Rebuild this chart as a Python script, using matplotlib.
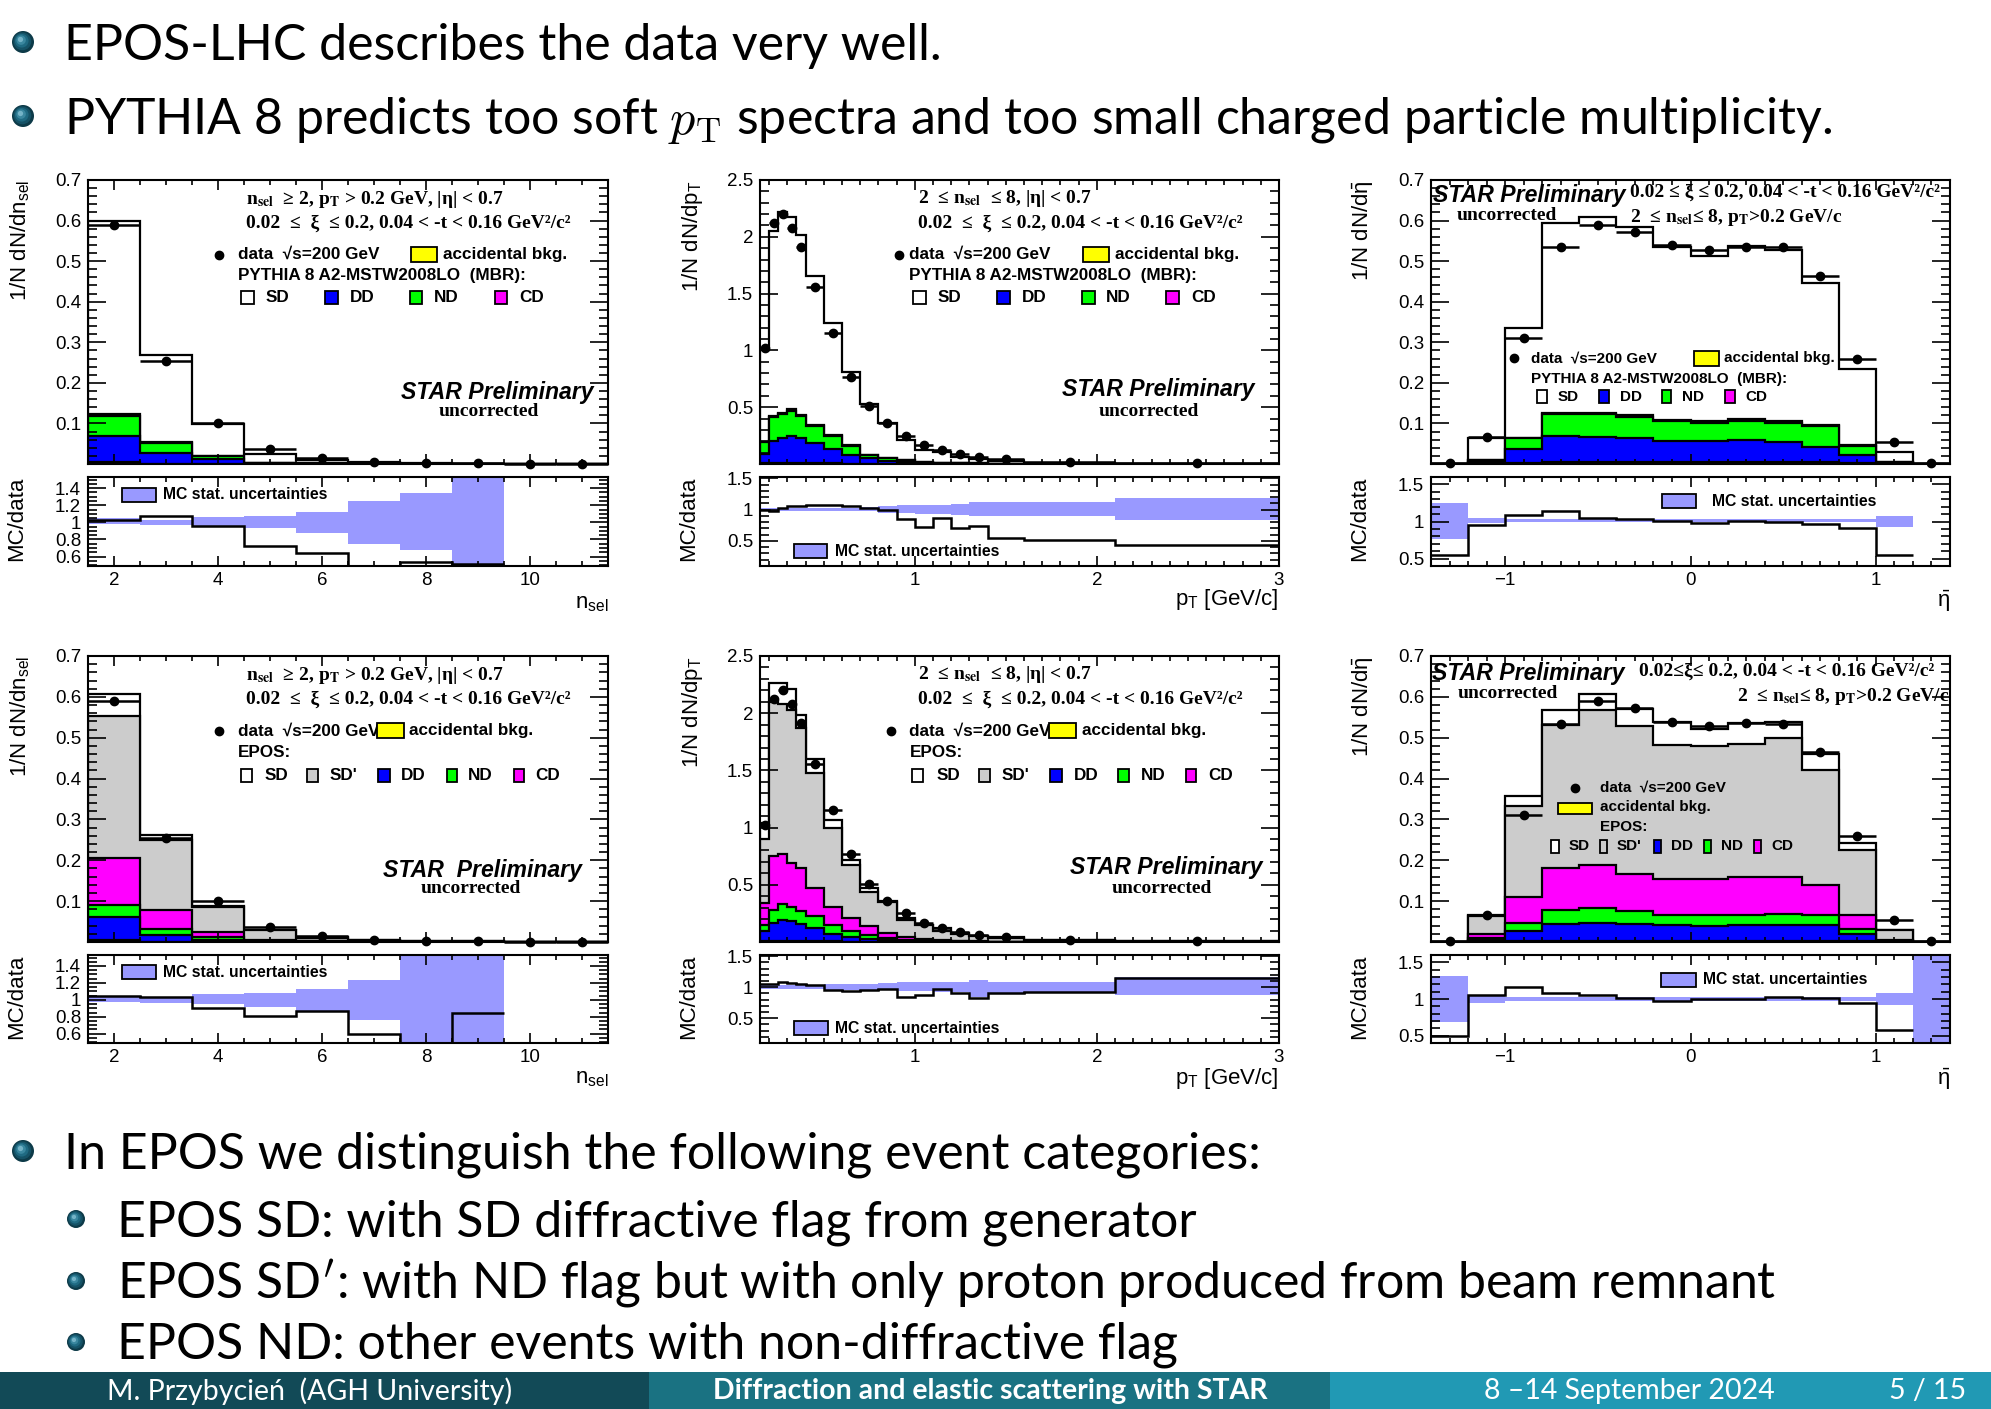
import numpy as np
import matplotlib.pyplot as plt
from matplotlib.patches import Rectangle, Circle
from matplotlib.ticker import MultipleLocator, FixedLocator, FuncFormatter

plt.rcParams['font.family'] = ['Liberation Sans', 'DejaVu Sans']
plt.rcParams['mathtext.fontset'] = 'custom'
plt.rcParams['mathtext.rm'] = 'Liberation Sans'
plt.rcParams['mathtext.it'] = 'Liberation Sans:italic'
plt.rcParams['mathtext.bf'] = 'Liberation Sans:bold'

# ---------------- binning ----------------
nsel_edges = [1.5, 2.5, 3.5, 4.5, 5.5, 6.5, 7.5, 8.5, 9.5, 10.5, 11.5]
pt_edges = [0.15, 0.2, 0.25, 0.3, 0.35, 0.4, 0.5, 0.6, 0.7, 0.8, 0.9, 1.0,
            1.1, 1.2, 1.3, 1.4, 1.6, 2.1, 3.0]
eta_edges = [-1.4, -1.2, -1.0, -0.8, -0.6, -0.4, -0.2, 0.0, 0.2, 0.4, 0.6,
             0.8, 1.0, 1.2, 1.4]

# ---------------- STAR data (uncorrected) ----------------
data_nsel = [0.590, 0.255, 0.100, 0.036, 0.014, 0.006, 0.003, 0.002, 0.001, 0.001]
data_pt = [1.02, 2.12, 2.20, 2.08, 1.91, 1.56, 1.15, 0.77, 0.51, 0.36, 0.25,
           0.167, 0.123, 0.088, 0.064, 0.044, 0.020, 0.006]
data_eta = [0.002, 0.066, 0.310, 0.534, 0.590, 0.572, 0.539, 0.528, 0.536,
            0.534, 0.464, 0.260, 0.054, 0.002]

# ---------------- PYTHIA 8 components ----------------
py_nsel_bkg = [0.004, 0.001, 0.0005, 0, 0, 0, 0, 0, 0, 0]
py_nsel_dd = [0.064, 0.025, 0.011, 0.002, 0.001, 0, 0, 0, 0, 0]
py_nsel_nd = [0.050, 0.026, 0.008, 0.001, 0.0005, 0, 0, 0, 0, 0]
py_nsel_cd = [0.005, 0.002, 0.001, 0, 0, 0, 0, 0, 0, 0]
py_nsel_sd = [0.477, 0.214, 0.077, 0.022, 0.0085, 0.004, 0.002, 0.001, 0.0005, 0.0003]

py_pt_bkg = [0.005, 0.010, 0.010, 0.010, 0.010, 0.008, 0.005, 0.003, 0.002,
             0.001, 0.0005, 0, 0, 0, 0, 0, 0, 0]
py_pt_dd = [0.085, 0.19, 0.215, 0.24, 0.215, 0.18, 0.125, 0.077, 0.048, 0.029,
            0.019, 0.010, 0.007, 0.005, 0.004, 0.003, 0.001, 0.0005]
py_pt_nd = [0.10, 0.21, 0.215, 0.22, 0.195, 0.15, 0.12, 0.08, 0.03, 0.02,
            0.012, 0.006, 0.004, 0.003, 0.002, 0.001, 0.0007, 0.0002]
py_pt_cd = [0.005, 0.010, 0.012, 0.012, 0.015, 0.008, 0.005, 0.003, 0.002,
            0.001, 0, 0, 0, 0, 0, 0, 0, 0]
py_pt_sd = [0.805, 1.63, 1.77, 1.69, 1.585, 1.31, 0.985, 0.647, 0.448, 0.309,
            0.179, 0.104, 0.096, 0.054, 0.041, 0.020, 0.008, 0.002]

py_eta_bkg = [0, 0.001, 0.002, 0.004, 0.004, 0.004, 0.004, 0.004, 0.004,
              0.004, 0.004, 0.002, 0.001, 0]
py_eta_dd = [0.0005, 0.003, 0.035, 0.066, 0.062, 0.059, 0.053, 0.053, 0.055,
             0.051, 0.039, 0.020, 0.001, 0]
py_eta_nd = [0.0005, 0.006, 0.026, 0.053, 0.057, 0.052, 0.048, 0.044, 0.046,
             0.046, 0.050, 0.023, 0.002, 0]
py_eta_cd = [0, 0.0005, 0.002, 0.002, 0.002, 0.005, 0.004, 0.005, 0.007,
             0.005, 0.003, 0.003, 0.0005, 0]
py_eta_sd = [0.0, 0.0525, 0.269, 0.469, 0.483, 0.463, 0.427, 0.407, 0.426,
             0.422, 0.350, 0.185, 0.0245, 0.001]

# ---------------- EPOS components ----------------
ep_nsel_bkg = [0.005, 0.001, 0.0005, 0, 0, 0, 0, 0, 0, 0]
ep_nsel_dd = [0.055, 0.015, 0.0055, 0.002, 0.001, 0.0005, 0, 0, 0, 0]
ep_nsel_nd = [0.031, 0.016, 0.006, 0.001, 0.0005, 0.0003, 0, 0, 0, 0]
ep_nsel_cd = [0.115, 0.047, 0.013, 0.001, 0.0005, 0.0002, 0, 0, 0, 0]
ep_nsel_sdp = [0.346, 0.170, 0.061, 0.025, 0.008, 0.004, 0.003, 0.002, 0.001, 0.0005]
ep_nsel_sd = [0.056, 0.014, 0.002, 0.001, 0.002, 0.0005, 0.0005, 0, 0, 0]

ep_pt_bkg = [0.005, 0.010, 0.010, 0.010, 0.010, 0.008, 0.005, 0.003, 0.002,
             0.001, 0, 0, 0, 0, 0, 0, 0, 0]
ep_pt_dd = [0.091, 0.156, 0.185, 0.170, 0.145, 0.117, 0.068, 0.041, 0.028,
            0.019, 0.012, 0.008, 0.005, 0.003, 0.002, 0.001, 0.0005, 0.0002]
ep_pt_nd = [0.050, 0.114, 0.140, 0.126, 0.115, 0.100, 0.073, 0.049, 0.034,
            0.015, 0.008, 0.002, 0.002, 0.002, 0.001, 0.001, 0.0005, 0.0002]
ep_pt_cd = [0.194, 0.470, 0.435, 0.384, 0.380, 0.250, 0.164, 0.117, 0.076,
            0.045, 0.024, 0.020, 0.013, 0.005, 0.004, 0.002, 0.001, 0.0006]
ep_pt_sdp = [0.56, 1.35, 1.31, 1.34, 1.22, 1.005, 0.69, 0.46, 0.30, 0.27,
             0.151, 0.116, 0.08, 0.063, 0.045, 0.031, 0.013, 0.005]
ep_pt_sd = [0.14, 0.16, 0.18, 0.18, 0.11, 0.12, 0.07, 0.05, 0.03, 0.005,
            0.015, 0.001, 0.02, 0.004, 0.001, 0.005, 0.003, 0.001]

ep_eta_bkg = [0, 0.001, 0.002, 0.003, 0.003, 0.003, 0.003, 0.003, 0.003,
              0.003, 0.003, 0.002, 0.0005, 0]
ep_eta_dd = [0.0005, 0.005, 0.024, 0.040, 0.043, 0.040, 0.038, 0.036, 0.038,
             0.039, 0.039, 0.018, 0.0005, 0]
ep_eta_nd = [0.0005, 0.004, 0.021, 0.036, 0.036, 0.033, 0.024, 0.026, 0.024,
             0.027, 0.023, 0.011, 0.001, 0]
ep_eta_cd = [0, 0.010, 0.063, 0.102, 0.107, 0.091, 0.088, 0.088, 0.094,
             0.090, 0.074, 0.034, 0.002, 0]
ep_eta_sdp = [0, 0.043, 0.224, 0.351, 0.379, 0.361, 0.328, 0.326, 0.325,
              0.341, 0.283, 0.159, 0.025, 0.0005]
ep_eta_sd = [0, 0.004, 0.023, 0.037, 0.040, 0.043, 0.057, 0.043, 0.052,
             0.038, 0.039, 0.018, 0.001, 0.0005]

# ---------------- MC/data ratios and MC stat. bands ----------------
r_py_nsel = [1.03, 1.08, 0.96, 0.72, 0.64, 0.48, 0.54, 0.51]
b_py_nsel_lo = [0.98, 0.97, 0.96, 0.93, 0.88, 0.75, 0.68, 0.40]
b_py_nsel_hi = [1.05, 1.03, 1.06, 1.08, 1.12, 1.25, 1.34, 1.60]

r_py_pt = [1.00, 0.98, 1.03, 1.05, 1.06, 1.07, 1.08, 1.05, 1.03, 1.00, 0.85,
           0.72, 0.87, 0.70, 0.74, 0.55, 0.51, 0.44]
b_py_pt_lo = [0.97, 0.97, 0.97, 0.97, 0.97, 0.97, 0.97, 0.97, 0.97, 0.95,
              0.94, 0.93, 0.93, 0.92, 0.90, 0.90, 0.90, 0.83]
b_py_pt_hi = [1.03, 1.03, 1.03, 1.03, 1.03, 1.03, 1.03, 1.03, 1.04, 1.05,
              1.07, 1.08, 1.08, 1.09, 1.12, 1.12, 1.12, 1.19]

r_py_eta = [0.55, 0.95, 1.09, 1.14, 1.05, 1.03, 1.01, 0.98, 1.01, 1.00, 0.97, 0.91, 0.55]
b_py_eta_lo = [0.77, 0.98, 0.99, 0.99, 0.99, 0.99, 0.99, 0.99, 0.99, 0.99, 0.99, 0.99, 0.93]
b_py_eta_hi = [1.25, 1.05, 1.03, 1.03, 1.03, 1.03, 1.03, 1.03, 1.03, 1.03, 1.03, 1.03, 1.07]

r_ep_nsel = [1.04, 1.03, 0.90, 0.81, 0.87, 0.60, 0.40, 0.85]
b_ep_nsel_lo = [0.97, 0.96, 0.95, 0.92, 0.86, 0.76, 0.40, 0.40]
b_ep_nsel_hi = [1.05, 1.03, 1.07, 1.08, 1.13, 1.24, 1.60, 1.60]

r_ep_pt = [1.06, 1.05, 1.08, 1.07, 1.06, 1.04, 0.96, 0.94, 0.95, 0.97, 0.85,
           0.88, 0.97, 0.90, 0.83, 0.90, 0.93, 1.15]
b_ep_pt_lo = [0.97, 0.97, 0.97, 0.97, 0.97, 0.97, 0.96, 0.96, 0.96, 0.95,
              0.94, 0.94, 0.93, 0.93, 0.85, 0.89, 0.90, 0.87]
b_ep_pt_hi = [1.04, 1.04, 1.04, 1.04, 1.04, 1.04, 1.05, 1.05, 1.06, 1.07,
              1.08, 1.08, 1.09, 1.09, 1.12, 1.09, 1.09, 1.16]

r_ep_eta = [0.50, 1.05, 1.17, 1.08, 1.05, 1.01, 0.97, 1.00, 1.00, 1.03, 1.01, 0.95, 0.58]
b_ep_eta_lo = [0.68, 0.94, 0.97, 0.97, 0.97, 0.97, 0.97, 0.97, 0.97, 0.97, 0.97, 0.97, 0.92, 0.40]
b_ep_eta_hi = [1.32, 1.05, 1.03, 1.03, 1.03, 1.03, 1.03, 1.03, 1.03, 1.03, 1.03, 1.03, 1.08, 1.60]

YELLOW, BLUE, GREEN, MAGENTA, GRAY, BAND = '#ffff00', '#0000ff', '#00ff00', '#ff00ff', '#cccccc', '#9999ff'

W, H = 1991, 1409
fig = plt.figure(figsize=(W / 100, H / 100), dpi=100)

# background axes in pixel coordinates (slide text, bullets, footer)
bg = fig.add_axes([0, 0, 1, 1], zorder=-5)
bg.set_xlim(0, W)
bg.set_ylim(H, 0)
bg.axis('off')


def add_ax(x0, x1, y0, y1):
    return fig.add_axes([x0 / W, 1 - y1 / H, (x1 - x0) / W, (y1 - y0) / H])


def fmt(v, pos):
    return ('%g' % v).replace('-', '\u2212')


def style(ax, xlim, ylim, xmaj, xmin, ymaj, ymin, labels_x):
    ax.set_xlim(*xlim)
    ax.set_ylim(*ylim)
    ax.xaxis.set_major_locator(FixedLocator(xmaj))
    ax.xaxis.set_minor_locator(MultipleLocator(xmin))
    ax.yaxis.set_major_locator(FixedLocator(ymaj))
    ax.yaxis.set_minor_locator(MultipleLocator(ymin))
    ax.xaxis.set_major_formatter(FuncFormatter(fmt))
    ax.yaxis.set_major_formatter(FuncFormatter(fmt))
    ax.tick_params(which='both', direction='in', top=True, right=True,
                   width=1.2, labelsize=13.5, labelbottom=labels_x)
    ax.tick_params(axis='y', which='major', length=13, pad=5)
    ax.tick_params(axis='y', which='minor', length=6.5)
    ax.tick_params(axis='x', which='major', length=7, pad=4)
    ax.tick_params(axis='x', which='minor', length=3.5)
    for s in ax.spines.values():
        s.set_linewidth(1.5)


def draw_stack(ax, edges, layers):
    tops = np.cumsum([v for v, c in layers], axis=0)
    for top, (_, c) in reversed(list(zip(tops, layers))):
        ax.stairs(top, edges, baseline=0, fill=True, facecolor=c,
                  edgecolor='black', lw=1.6)


def draw_data(ax, edges, vals):
    e = np.asarray(edges)
    ax.errorbar(0.5 * (e[1:] + e[:-1]), vals, xerr=0.5 * np.diff(e), fmt='o',
                color='black', ms=6, elinewidth=1.8, capsize=0, zorder=5,
                clip_on=False)


def draw_ratio(rax, edges, ratio, lo, hi):
    rax.stairs(hi, edges[:len(hi) + 1], baseline=lo, fill=True,
               facecolor=BAND, edgecolor='none', lw=0)
    rax.stairs(ratio, edges[:len(ratio) + 1], baseline=None,
               color='black', lw=1.8)


def txt(ax, x, y, s, **kw):
    ax.text(x, y, s, transform=ax.transAxes, **kw)


def box(ax, x0, x1, yc, h, color):
    ax.add_patch(Rectangle((x0, yc - h / 2), x1 - x0, h, transform=ax.transAxes,
                           facecolor=color, edgecolor='black', lw=1.3,
                           clip_on=False, zorder=6))


LEG = dict(fontsize=12.3, fontweight='bold', va='center')
LEG_S = dict(fontsize=11, fontweight='bold', va='center')
SERIF = dict(family=['Liberation Serif', 'DejaVu Serif'], fontweight='bold',
             fontsize=14, va='center', math_fontfamily='stix')
STAR = dict(fontsize=16.6, fontweight='bold', fontstyle='italic', va='center')

cols = [(88, 608), (760, 1279), (1431, 1950)]
rows = [((180, 464), (477, 566)), ((656, 942), (955, 1043))]

py_layers = [
    [(py_nsel_bkg, YELLOW), (py_nsel_dd, BLUE), (py_nsel_nd, GREEN), (py_nsel_cd, MAGENTA), (py_nsel_sd, 'white')],
    [(py_pt_bkg, YELLOW), (py_pt_dd, BLUE), (py_pt_nd, GREEN), (py_pt_cd, MAGENTA), (py_pt_sd, 'white')],
    [(py_eta_bkg, YELLOW), (py_eta_dd, BLUE), (py_eta_nd, GREEN), (py_eta_cd, MAGENTA), (py_eta_sd, 'white')],
]
ep_layers = [
    [(ep_nsel_bkg, YELLOW), (ep_nsel_dd, BLUE), (ep_nsel_nd, GREEN), (ep_nsel_cd, MAGENTA), (ep_nsel_sdp, GRAY), (ep_nsel_sd, 'white')],
    [(ep_pt_bkg, YELLOW), (ep_pt_dd, BLUE), (ep_pt_nd, GREEN), (ep_pt_cd, MAGENTA), (ep_pt_sdp, GRAY), (ep_pt_sd, 'white')],
    [(ep_eta_bkg, YELLOW), (ep_eta_dd, BLUE), (ep_eta_nd, GREEN), (ep_eta_cd, MAGENTA), (ep_eta_sdp, GRAY), (ep_eta_sd, 'white')],
]
ratios = [
    [(r_py_nsel, b_py_nsel_lo, b_py_nsel_hi), (r_py_pt, b_py_pt_lo, b_py_pt_hi), (r_py_eta, b_py_eta_lo, b_py_eta_hi)],
    [(r_ep_nsel, b_ep_nsel_lo, b_ep_nsel_hi), (r_ep_pt, b_ep_pt_lo, b_ep_pt_hi), (r_ep_eta, b_ep_eta_lo, b_ep_eta_hi)],
]

kinds = [
    dict(edges=nsel_edges, data=data_nsel, xlim=(1.5, 11.5), xmaj=[2, 4, 6, 8, 10], xmin=0.5,
         ylim=(0, 0.7), ymaj=[0.1, 0.2, 0.3, 0.4, 0.5, 0.6, 0.7], ymin=0.02,
         ytitle=r'1/N dN/dn$_{\mathrm{sel}}$', xtitle=r'n$_{\mathrm{sel}}$'),
    dict(edges=pt_edges, data=data_pt, xlim=(0.15, 3.0), xmaj=[1, 2, 3], xmin=0.1,
         ylim=(0, 2.5), ymaj=[0.5, 1, 1.5, 2, 2.5], ymin=0.1,
         ytitle=r'1/N dN/dp$_{\mathrm{T}}$', xtitle=r'p$_{\mathrm{T}}$ [GeV/c]'),
    dict(edges=eta_edges, data=data_eta, xlim=(-1.4, 1.4), xmaj=[-1, 0, 1], xmin=0.1,
         ylim=(0, 0.7), ymaj=[0.1, 0.2, 0.3, 0.4, 0.5, 0.6, 0.7], ymin=0.02,
         ytitle=r'1/N dN/d$\bar{\mathrm{\eta}}$', xtitle=r'$\bar{\mathrm{\eta}}$'),
]
ratio_y = [((0.49, 1.53), [0.6, 0.8, 1, 1.2, 1.4], 0.05),
           ((0.1, 1.52), [0.5, 1, 1.5], 0.1),
           ((0.4, 1.6), [0.5, 1, 1.5], 0.1)]
xtitle_y = [[-0.42, -0.38, -0.40], [-0.40, -0.40, -0.41]]

axes = {}
for r, ((my0, my1), (ry0, ry1)) in enumerate(rows):
    for c, (x0, x1) in enumerate(cols):
        k = kinds[c]
        ax = add_ax(x0, x1, my0, my1)
        rax = add_ax(x0, x1, ry0, ry1)
        layers = py_layers[c] if r == 0 else ep_layers[c]
        draw_stack(ax, k['edges'], layers)
        draw_data(ax, k['edges'], k['data'])
        style(ax, k['xlim'], k['ylim'], k['xmaj'], k['xmin'], k['ymaj'], k['ymin'], False)
        rat, lo, hi = ratios[r][c]
        draw_ratio(rax, k['edges'], rat, lo, hi)
        rylim, rmaj, rmin = ratio_y[c]
        style(rax, k['xlim'], rylim, k['xmaj'], k['xmin'], rmaj, rmin, True)
        txt(ax, -0.13, 1.0, k['ytitle'], rotation=90, ha='center', va='top', fontsize=16)
        txt(rax, -0.137, 1.0, 'MC/data', rotation=90, ha='center', va='top', fontsize=16)
        txt(rax, 1.0, xtitle_y[r][c], k['xtitle'], ha='right', va='center', fontsize=16)
        axes[(r, c)] = (ax, rax)

HB = 13 / 284   # legend box height (axes fraction)
HY = 15 / 284   # yellow box height
HR = 14 / 89    # ratio legend box height

cut1_a = r'n$_{\mathbf{sel}}$  ≥ 2, p$_{\mathbf{T}}$ > 0.2 GeV, |η| < 0.7'
cut1_b = r'2  ≤ n$_{\mathbf{sel}}$  ≤ 8, |η| < 0.7'
cut2 = '0.02  ≤  ξ  ≤ 0.2, 0.04 < -t < 0.16 GeV²/c²'
cut_eta = r'2  ≤ n$_{\mathbf{sel}}$≤ 8, p$_{\mathbf{T}}$>0.2 GeV/c'

# ---- PYTHIA n_sel ----
ax, rax = axes[(0, 0)]
txt(ax, 0.303, 0.932, cut1_a, **SERIF)
txt(ax, 0.303, 0.848, cut2, **SERIF)
ax.plot([0.251], [0.737], 'o', color='black', ms=6, transform=ax.transAxes, clip_on=False)
txt(ax, 0.2875, 0.737, 'data  √s=200 GeV', **LEG)
box(ax, 0.621, 0.672, 0.737, HY, YELLOW)
txt(ax, 0.682, 0.737, 'accidental bkg.', **LEG)
txt(ax, 0.2875, 0.663, 'PYTHIA 8 A2-MSTW2008LO  (MBR):', **LEG)
for bx0, bx1, tx, lab, col in [(0.295, 0.32, 0.342, 'SD', 'white'), (0.456, 0.48, 0.503, 'DD', BLUE),
                               (0.619, 0.643, 0.666, 'ND', GREEN), (0.782, 0.806, 0.829, 'CD', MAGENTA)]:
    box(ax, bx0, bx1, 0.585, HB, col)
    txt(ax, tx, 0.585, lab, **LEG)
txt(ax, 0.9725, 0.2515, 'STAR Preliminary', ha='right', **STAR)
txt(ax, 0.771, 0.185, 'uncorrected', **{**SERIF, 'ha': 'center'})
box(rax, 0.065, 0.13, 0.80, HR, BAND)
txt(rax, 0.144, 0.80, 'MC stat. uncertainties', fontsize=11.3, fontweight='bold', va='center')

# ---- PYTHIA p_T ----
ax, rax = axes[(0, 1)]
txt(ax, 0.304, 0.936, cut1_b, **SERIF)
txt(ax, 0.304, 0.848, cut2, **SERIF)
ax.plot([0.268], [0.737], 'o', color='black', ms=6, transform=ax.transAxes, clip_on=False)
txt(ax, 0.288, 0.737, 'data  √s=200 GeV', **LEG)
box(ax, 0.623, 0.672, 0.737, HY, YELLOW)
txt(ax, 0.684, 0.737, 'accidental bkg.', **LEG)
txt(ax, 0.288, 0.663, 'PYTHIA 8 A2-MSTW2008LO  (MBR):', **LEG)
for bx0, bx1, tx, lab, col in [(0.294, 0.32, 0.343, 'SD', 'white'), (0.457, 0.481, 0.504, 'DD', BLUE),
                               (0.62, 0.645, 0.667, 'ND', GREEN), (0.783, 0.808, 0.83, 'CD', MAGENTA)]:
    box(ax, bx0, bx1, 0.585, HB, col)
    txt(ax, tx, 0.585, lab, **LEG)
txt(ax, 0.953, 0.263, 'STAR Preliminary', ha='right', **STAR)
txt(ax, 0.749, 0.185, 'uncorrected', **{**SERIF, 'ha': 'center'})
box(rax, 0.066, 0.13, 0.168, HR, BAND)
txt(rax, 0.144, 0.168, 'MC stat. uncertainties', fontsize=11.3, fontweight='bold', va='center')

# ---- PYTHIA eta ----
ax, rax = axes[(0, 2)]
txt(ax, 0.004, 0.947, 'STAR Preliminary', ha='left', **STAR)
txt(ax, 0.05, 0.874, 'uncorrected', **SERIF)
txt(ax, 0.384, 0.956, '0.02 ≤ ξ ≤ 0.2, 0.04 < -t < 0.16 GeV²/c²', **SERIF)
txt(ax, 0.384, 0.868, cut_eta, **SERIF)
ax.plot([0.16], [0.372], 'o', color='black', ms=6, transform=ax.transAxes, clip_on=False)
txt(ax, 0.193, 0.372, 'data  √s=200 GeV', **LEG_S)
box(ax, 0.506, 0.554, 0.372, HY, YELLOW)
txt(ax, 0.565, 0.372, 'accidental bkg.', **LEG_S)
txt(ax, 0.193, 0.298, 'PYTHIA 8 A2-MSTW2008LO  (MBR):', **LEG_S)
for bx0, bx1, tx, lab, col in [(0.205, 0.224, 0.244, 'SD', 'white'), (0.324, 0.343, 0.364, 'DD', BLUE),
                               (0.446, 0.463, 0.484, 'ND', GREEN), (0.567, 0.585, 0.606, 'CD', MAGENTA)]:
    box(ax, bx0, bx1, 0.237, HB, col)
    txt(ax, tx, 0.237, lab, **LEG_S)
box(rax, 0.446, 0.51, 0.728, HR, BAND)
txt(rax, 0.541, 0.728, 'MC stat. uncertainties', fontsize=11.3, fontweight='bold', va='center')

# ---- EPOS n_sel ----
ax, rax = axes[(1, 0)]
txt(ax, 0.303, 0.932, cut1_a, **SERIF)
txt(ax, 0.303, 0.847, cut2, **SERIF)
ax.plot([0.251], [0.738], 'o', color='black', ms=6, transform=ax.transAxes, clip_on=False)
txt(ax, 0.2875, 0.738, 'data  √s=200 GeV', **LEG)
box(ax, 0.556, 0.607, 0.738, HY, YELLOW)
txt(ax, 0.617, 0.738, 'accidental bkg.', **LEG)
txt(ax, 0.2875, 0.664, 'EPOS:', **LEG)
for bx0, bx1, tx, lab, col in [(0.295, 0.315, 0.339, 'SD', 'white'), (0.421, 0.442, 0.464, "SD'", GRAY),
                               (0.558, 0.58, 0.602, 'DD', BLUE), (0.69, 0.709, 0.731, 'ND', GREEN),
                               (0.819, 0.839, 0.861, 'CD', MAGENTA)]:
    box(ax, bx0, bx1, 0.583, HB, col)
    txt(ax, tx, 0.583, lab, **LEG)
txt(ax, 0.949, 0.25, 'STAR  Preliminary', ha='right', **STAR)
txt(ax, 0.737, 0.186, 'uncorrected', **{**SERIF, 'ha': 'center'})
box(rax, 0.065, 0.13, 0.805, HR, BAND)
txt(rax, 0.144, 0.805, 'MC stat. uncertainties', fontsize=11.3, fontweight='bold', va='center')

# ---- EPOS p_T ----
ax, rax = axes[(1, 1)]
txt(ax, 0.305, 0.936, cut1_b, **SERIF)
txt(ax, 0.305, 0.848, cut2, **SERIF)
ax.plot([0.252], [0.738], 'o', color='black', ms=6, transform=ax.transAxes, clip_on=False)
txt(ax, 0.288, 0.738, 'data  √s=200 GeV', **LEG)
box(ax, 0.556, 0.608, 0.738, HY, YELLOW)
txt(ax, 0.62, 0.738, 'accidental bkg.', **LEG)
txt(ax, 0.288, 0.664, 'EPOS:', **LEG)
for bx0, bx1, tx, lab, col in [(0.293, 0.315, 0.34, 'SD', 'white'), (0.422, 0.443, 0.465, "SD'", GRAY),
                               (0.559, 0.581, 0.604, 'DD', BLUE), (0.69, 0.711, 0.734, 'ND', GREEN),
                               (0.82, 0.841, 0.864, 'CD', MAGENTA)]:
    box(ax, bx0, bx1, 0.583, HB, col)
    txt(ax, tx, 0.583, lab, **LEG)
txt(ax, 0.9675, 0.262, 'STAR Preliminary', ha='right', **STAR)
txt(ax, 0.774, 0.186, 'uncorrected', **{**SERIF, 'ha': 'center'})
box(rax, 0.066, 0.131, 0.168, HR, BAND)
txt(rax, 0.145, 0.168, 'MC stat. uncertainties', fontsize=11.3, fontweight='bold', va='center')

# ---- EPOS eta ----
ax, rax = axes[(1, 2)]
txt(ax, 0.002, 0.938, 'STAR Preliminary', ha='left', **STAR)
txt(ax, 0.051, 0.868, 'uncorrected', **SERIF)
txt(ax, 0.40, 0.948, '0.02≤ξ≤ 0.2, 0.04 < -t < 0.16 GeV²/c²', **SERIF)
txt(ax, 0.998, 0.857, cut_eta, **{**SERIF, 'ha': 'right'})
ax.plot([0.277], [0.54], 'o', color='black', ms=6, transform=ax.transAxes, clip_on=False)
txt(ax, 0.326, 0.54, 'data  √s=200 GeV', **LEG_S)
box(ax, 0.244, 0.311, 0.466, 11 / 286, YELLOW)
txt(ax, 0.326, 0.472, 'accidental bkg.', **LEG_S)
txt(ax, 0.326, 0.402, 'EPOS:', **LEG_S)
for bx0, bx1, tx, lab, col in [(0.232, 0.246, 0.265, 'SD', 'white'), (0.326, 0.34, 0.358, "SD'", GRAY),
                               (0.429, 0.443, 0.463, 'DD', BLUE), (0.526, 0.54, 0.559, 'ND', GREEN),
                               (0.622, 0.636, 0.655, 'CD', MAGENTA)]:
    box(ax, bx0, bx1, 0.335, HB, col)
    txt(ax, tx, 0.335, lab, **LEG_S)
box(rax, 0.443, 0.51, 0.72, HR, BAND)
txt(rax, 0.524, 0.72, 'MC stat. uncertainties', fontsize=11.3, fontweight='bold', va='center')


# ---------------- slide text ----------------
def ball(x, y, r):
    shades = ['#0d3a48', '#155266', '#1f6a82', '#3a879f', '#74b3c7']
    for i, col in enumerate(shades):
        f = 1 - i * 0.19
        bg.add_patch(Circle((x - (1 - f) * r * 0.3, y - (1 - f) * r * 0.3), r * f,
                            facecolor=col, edgecolor='none'))


SLIDE = dict(fontsize=36, family=['Lato', 'DejaVu Sans'], va='baseline', math_fontfamily='cm')
bullets = [
    (23, 42, 11, 64, 60, 'EPOS-LHC describes the data very well.'),
    (23, 116, 11, 64, 134, r'PYTHIA 8 predicts too soft $p_{\mathrm{T}}$ spectra and too small charged particle multiplicity.'),
    (23, 1151, 11, 64, 1168, 'In EPOS we distinguish the following event categories:'),
    (76, 1219, 9, 117, 1236, 'EPOS SD: with SD diffractive flag from generator'),
    (76, 1281, 9, 117, 1298, r"EPOS SD$'$: with ND flag but with only proton produced from beam remnant"),
    (76, 1342, 9, 117, 1359, 'EPOS ND: other events with non-diffractive flag'),
]
for bxp, byp, br, tx, ty, s in bullets:
    ball(bxp, byp, br)
    bg.text(tx, ty, s, **SLIDE)

# footer
for x0, x1, col in [(0, 649, '#124a57'), (649, 1330, '#1a7282'), (1330, W, '#2199b4')]:
    bg.add_patch(Rectangle((x0, 1372), x1 - x0, H - 1372, facecolor=col, edgecolor='none'))
FOOT = dict(fontsize=20.5, family=['Lato', 'DejaVu Sans'], color='white', va='center')
bg.text(310, 1391, 'M. Przybycień  (AGH University)', ha='center', **FOOT)
bg.text(990, 1391, 'Diffraction and elastic scattering with STAR', ha='center', fontweight='bold', **FOOT)
bg.text(1629, 1391, '8 –14 September 2024', ha='center', **FOOT)
bg.text(1966, 1391, '5 / 15', ha='right', **FOOT)

fig.savefig('out.png', dpi=100)
